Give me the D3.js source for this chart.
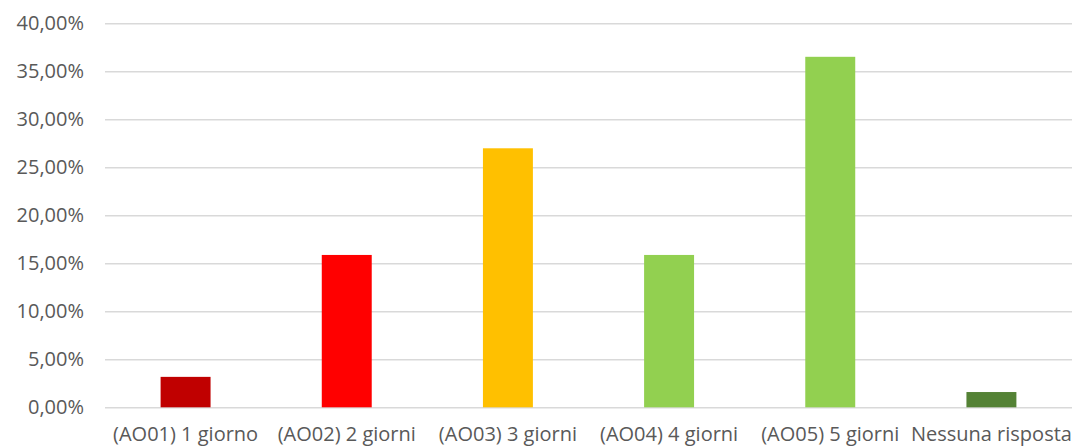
<!DOCTYPE html>
<html><head><meta charset="utf-8">
<script src="https://cdn.jsdelivr.net/npm/d3@7"></script>
<style>body{margin:0;background:#fff}svg{display:block}text{font-family:"Open Sans",sans-serif;fill:#595959}</style>
</head><body>
<svg id="c" width="1077" height="448"></svg>
<script>
const categories = ["(AO01) 1 giorno","(AO02) 2 giorni","(AO03) 3 giorni","(AO04) 4 giorni","(AO05) 5 giorni","Nessuna risposta"];
const values = [3.17, 15.87, 26.98, 15.87, 36.51, 1.59];
const colors = ["#c00000","#ff0000","#ffc000","#92d050","#92d050","#548235"];
const yTicks = [0,5,10,15,20,25,30,35,40];

const svg = d3.select("#c");
const m = {left:105, right:1077-1072, top:23.3, bottom:448-407.3};
const W = 1077, H = 448;
const x = d3.scaleBand().domain(categories).range([m.left, W-m.right]).paddingInner(0.69).paddingOuter(0.345);
const y = d3.scaleLinear().domain([0,40]).range([H-m.bottom, m.top]);

const fmt = v => d3.format(".2f")(v).replace(".", ",") + "%";

const ga = svg.append("g").attr("transform",`translate(${m.left},0)`)
  .call(d3.axisLeft(y).tickValues(yTicks).tickSize(-(W-m.left-m.right)).tickPadding(21).tickFormat(fmt));
ga.select(".domain").remove();
ga.selectAll(".tick line").attr("stroke","#d9d9d9").attr("stroke-width",1.5);
ga.selectAll(".tick text").attr("font-size",20).attr("fill","#595959").attr("font-family","Open Sans, sans-serif");

svg.append("g").selectAll("rect").data(values).join("rect")
  .attr("x",(d,i)=>x(categories[i]))
  .attr("width",x.bandwidth())
  .attr("y",d=>y(d))
  .attr("height",d=>y(0)-y(d))
  .attr("fill",(d,i)=>colors[i]);

const gx = svg.append("g").attr("transform",`translate(0,${H-m.bottom})`)
  .call(d3.axisBottom(x).tickSize(0).tickPadding(20));
gx.select(".domain").remove();
gx.selectAll(".tick text").attr("font-size",20).attr("fill","#595959").attr("font-family","Open Sans, sans-serif");
</script>
</body></html>
